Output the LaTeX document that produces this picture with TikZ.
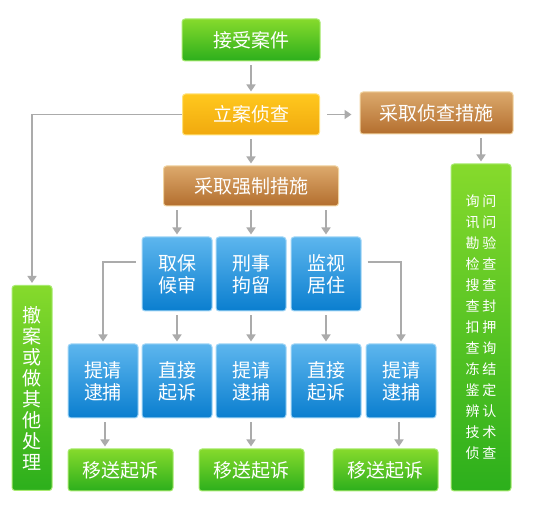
\documentclass[tikz,border=0pt]{standalone}
\usepackage{fontspec}
\newfontfamily\cjk{Noto Sans CJK SC}
\usetikzlibrary{arrows.meta}

\definecolor{grntop}{HTML}{86DA2C}
\definecolor{grnbot}{HTML}{2CAF1C}
\definecolor{grnline}{HTML}{A8EA70}
\definecolor{ylwtop}{HTML}{FFC81E}
\definecolor{ylwbot}{HTML}{F1A90E}
\definecolor{ylwline}{HTML}{FFE27A}
\definecolor{brntop}{HTML}{DCA96C}
\definecolor{brnbot}{HTML}{B36E2E}
\definecolor{brnline}{HTML}{F0D3A0}
\definecolor{blutop}{HTML}{5DB6EE}
\definecolor{blubot}{HTML}{0A7ECF}
\definecolor{bluline}{HTML}{A2D6F6}
\definecolor{arrgray}{HTML}{ABABAB}

\begin{document}
\begin{tikzpicture}[x=1pt,y=-1pt,
  box/.style={rounded corners=3pt, line width=1pt, text=white, inner sep=0pt,
    align=center, font=\cjk\fontsize{19}{22}\selectfont},
  greenbox/.style={box, draw=grnline, top color=grntop, bottom color=grnbot},
  yellowbox/.style={box, draw=ylwline, top color=ylwtop, bottom color=ylwbot},
  brownbox/.style={box, draw=brnline, top color=brntop, bottom color=brnbot},
  bluebox/.style={box, draw=bluline, top color=blutop, bottom color=blubot,
    minimum width=70pt, minimum height=74pt},
  arr/.style={draw=arrgray, line width=1.6pt, -{Triangle[length=7pt,width=9pt]},
    shorten <=4pt, shorten >=2pt},
  link/.style={arr, shorten <=0pt}
]
\useasboundingbox (0,0) rectangle (550,513);

% main column
\node[greenbox, minimum width=138pt, minimum height=42pt] (accept) at (251,40) {接受案件};
\node[yellowbox, minimum width=137pt, minimum height=41pt] (invest) at (251,114.5) {立案侦查};
\node[brownbox, minimum width=153pt, minimum height=42pt] (measures) at (436.5,113) {采取侦查措施};
\node[brownbox, minimum width=175pt, minimum height=40pt] (force) at (251,186) {采取强制措施};

% coercive measures
\node[bluebox] (bail)    at (177,274) {取保\\候审};
\node[bluebox] (detain)  at (251,274) {刑事\\拘留};
\node[bluebox] (monitor) at (326,274) {监视\\居住};

% second row
\node[bluebox] (ask1)    at (103,381) {提请\\逮捕};
\node[bluebox] (direct1) at (177,381) {直接\\起诉};
\node[bluebox] (ask2)    at (251,381) {提请\\逮捕};
\node[bluebox] (direct2) at (326,381) {直接\\起诉};
\node[bluebox] (ask3)    at (401,381) {提请\\逮捕};

% bottom row
\node[greenbox, minimum width=105pt, minimum height=42pt] (send1) at (120.5,470) {移送起诉};
\node[greenbox, minimum width=105pt, minimum height=42pt] (send2) at (251.5,470) {移送起诉};
\node[greenbox, minimum width=105pt, minimum height=42pt] (send3) at (385.5,470) {移送起诉};

% side columns
\node[greenbox, minimum width=40pt, minimum height=205pt,
  font=\cjk\fontsize{19}{21}\selectfont] (withdraw) at (32,388)
  {撤\\案\\或\\做\\其\\他\\处\\理};
\node[greenbox, minimum width=60pt, minimum height=327pt,
  font=\cjk\fontsize{14}{21}\selectfont] (means) at (481,327.5)
  {询\hspace{3pt}问\\讯\hspace{3pt}问\\勘\hspace{3pt}验\\检\hspace{3pt}查\\搜\hspace{3pt}查\\查\hspace{3pt}封\\扣\hspace{3pt}押\\查\hspace{3pt}询\\冻\hspace{3pt}结\\鉴\hspace{3pt}定\\辨\hspace{3pt}认\\技\hspace{3pt}术\\侦\hspace{3pt}查};

% connectors
\draw[arr] (accept) -- (invest);
\draw[arr] (invest) -- (force);
\draw[arr, shorten <=7pt, shorten >=8pt] (invest) -- (invest -| measures.west);
\draw[arr] (means.north |- measures.south) -- (means.north);
\draw[link] (invest.west) -| (withdraw.north);

\draw[arr] (force.south -| bail) -- (bail);
\draw[arr] (force) -- (detain);
\draw[arr] (force.south -| monitor) -- (monitor);

\draw[arr] (bail) -- (direct1);
\draw[arr] (detain) -- (ask2);
\draw[arr] (monitor) -- (direct2);
\draw[link, shorten <=0pt] ([xshift=-6pt,yshift=12pt]bail.west) -| (ask1.north);
\draw[link, shorten <=0pt] ([xshift=6pt,yshift=12pt]monitor.east) -| (ask3.north);

\draw[arr] ([xshift=2pt]ask1.south) -- ([xshift=2pt]ask1.south |- send1.north);
\draw[arr] (ask2) -- (ask2.south |- send2.north);
\draw[arr] ([xshift=-2pt]ask3.south) -- ([xshift=-2pt]ask3.south |- send3.north);
\end{tikzpicture}
\end{document}
